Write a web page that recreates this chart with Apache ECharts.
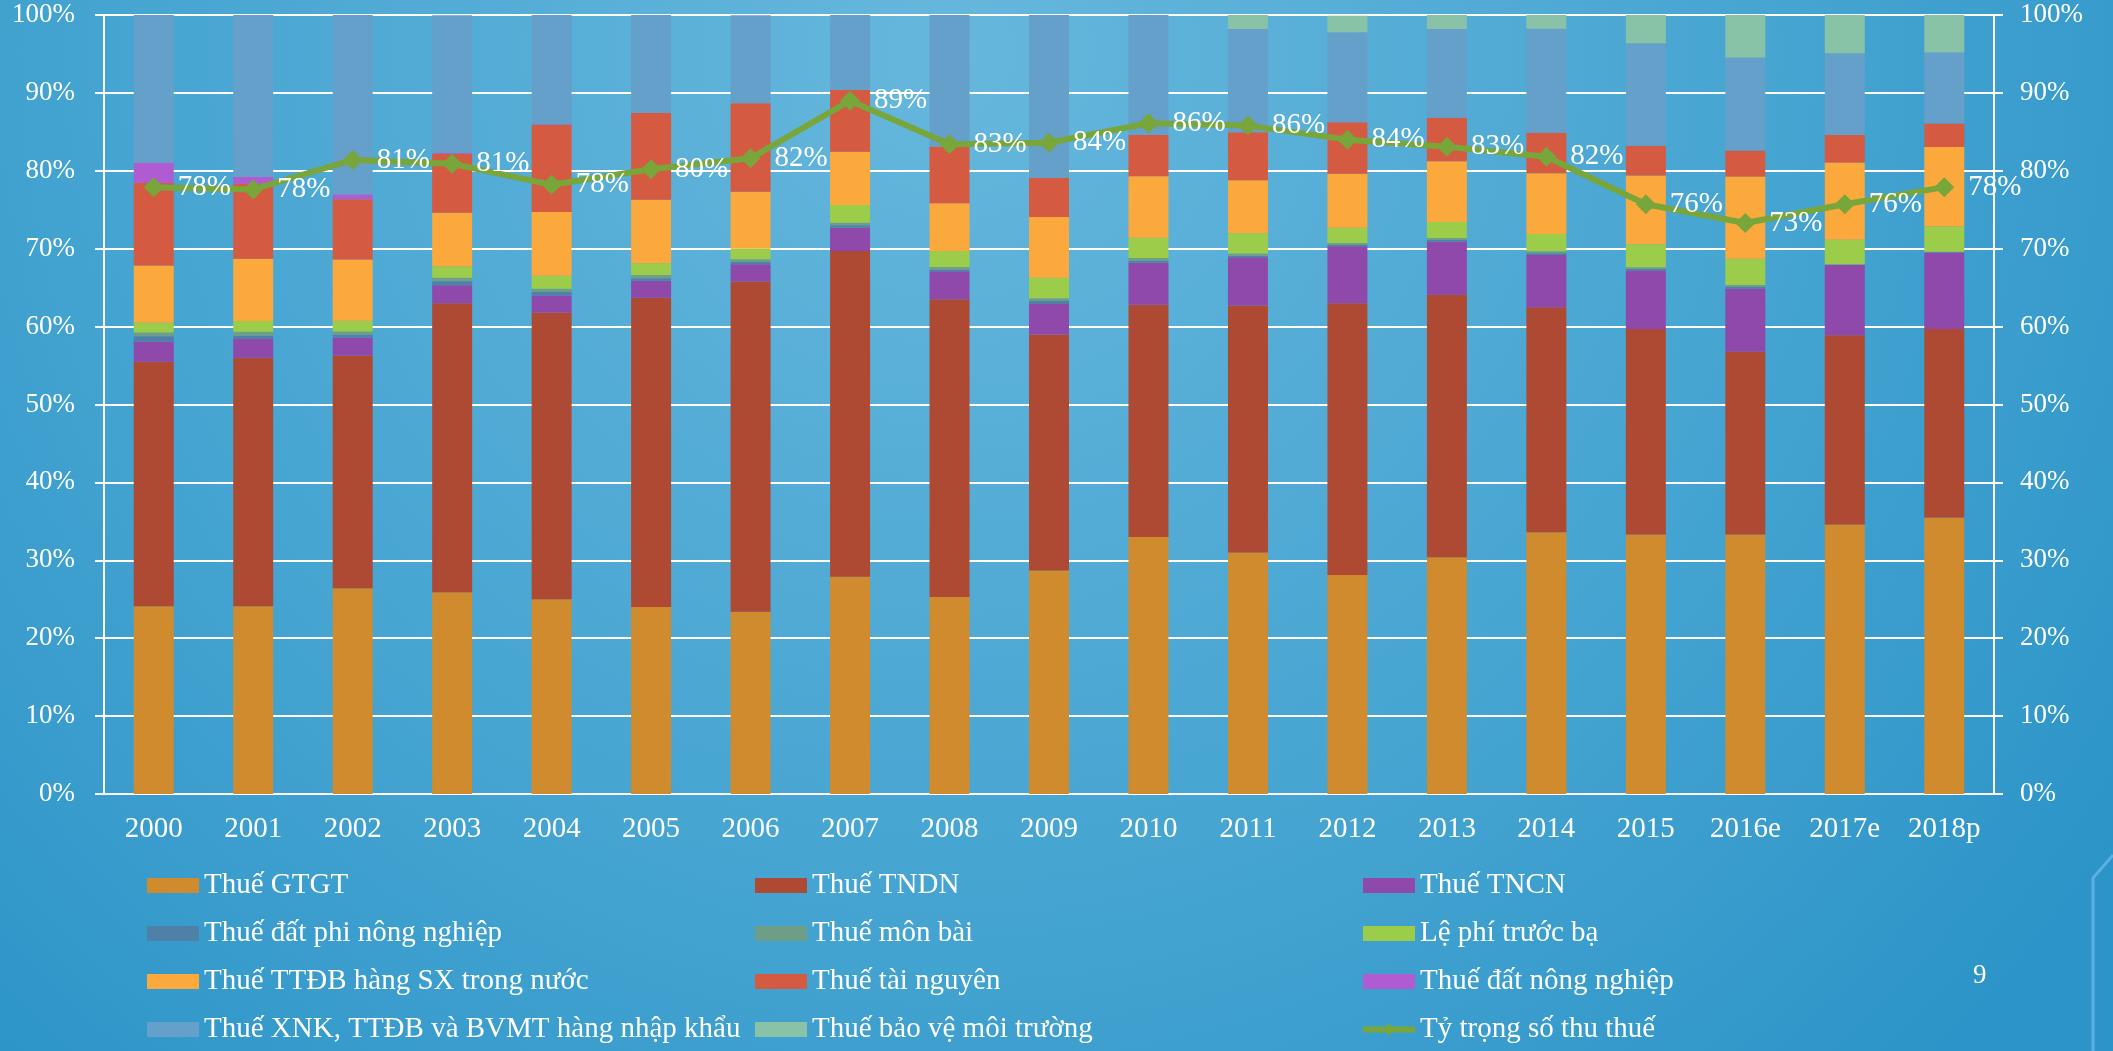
<!DOCTYPE html>
<html>
<head>
<meta charset="utf-8">
<script src="https://cdn.jsdelivr.net/npm/echarts@6/dist/echarts.min.js"></script>
<style>
  html, body { margin: 0; padding: 0; }
  #chart { width: 2113px; height: 1051px; }
</style>
</head>
<body>
<div id="chart"></div>
<script>
// categories
const years = ['2000','2001','2002','2003','2004','2005','2006','2007','2008','2009',
               '2010','2011','2012','2013','2014','2015','2016e','2017e','2018p'];
const yTicks = [0, 10, 20, 30, 40, 50, 60, 70, 80, 90, 100];

// tỷ trọng từng sắc thuế (%)
const gtgt      = [24.1, 24.1, 26.4, 25.9, 25.0, 24.0, 23.4, 27.9, 25.3, 28.7, 33.0, 31.0, 28.1, 30.4, 33.6, 33.3, 33.3, 34.6, 35.5];
const tndn      = [31.4, 31.9, 29.9, 37.1, 36.8, 39.7, 42.4, 41.8, 38.2, 30.3, 29.8, 31.7, 34.9, 33.7, 28.9, 26.4, 23.5, 24.3, 24.2];
const tncn      = [2.6, 2.4, 2.3, 2.3, 2.2, 2.2, 2.2, 3.0, 3.6, 3.9, 5.4, 6.2, 7.3, 6.8, 6.7, 7.5, 8.1, 9.0, 9.8];
const datPhiNN  = [0.65, 0.43, 0.34, 0.51, 0.43, 0.3, 0.3, 0.3, 0.22, 0.39, 0.26, 0.21, 0.17, 0.22, 0.21, 0.21, 0.21, 0.05, 0.05];
const monBai    = [0.5, 0.51, 0.43, 0.47, 0.43, 0.42, 0.34, 0.34, 0.34, 0.34, 0.34, 0.26, 0.26, 0.25, 0.26, 0.22, 0.22, 0.05, 0.05];
const lePhiTB   = [1.24, 1.37, 1.37, 1.42, 1.67, 1.5, 1.37, 2.27, 2.05, 2.65, 2.61, 2.61, 1.97, 2.06, 2.22, 2.95, 3.38, 3.16, 3.24];
const ttdbSX    = [7.36, 8.0, 7.87, 6.93, 8.17, 8.17, 7.31, 6.84, 6.12, 7.79, 7.88, 6.8, 6.93, 7.79, 7.79, 8.82, 10.57, 9.92, 10.23];
const taiNguyen = [10.61, 9.63, 7.75, 7.57, 11.21, 11.13, 11.34, 7.96, 7.28, 5.05, 5.3, 6.17, 6.59, 5.56, 5.22, 3.8, 3.33, 3.51, 2.99];
const datNN     = [2.53, 0.85, 0.6, 0.13, 0.05, 0, 0, 0, 0, 0, 0, 0, 0, 0, 0, 0, 0, 0, 0];
const xnk       = [19.04, 20.8, 23.06, 17.63, 14.07, 12.58, 11.3, 9.63, 16.94, 20.88, 15.45, 13.26, 11.55, 11.42, 13.35, 13.18, 11.94, 10.49, 9.12];
const bvmt      = [0, 0, 0, 0, 0, 0, 0, 0, 0, 0, 0, 1.84, 2.14, 1.8, 1.8, 3.64, 5.48, 4.96, 4.92];
const tyTrong   = [77.9, 77.6, 81.4, 80.9, 78.2, 80.2, 81.6, 89.0, 83.4, 83.6, 86.1, 85.8, 84.0, 83.1, 81.8, 75.7, 73.3, 75.7, 77.9];

const FONT = 'Liberation Serif';
const LINE_NAME = 'Tỷ trọng số thu thuế';
const LINE_COLOR = '#78a63a';

function barSeries(name, data, color) {
    return {
        name: name,
        type: 'bar',
        stack: 'thue',
        barWidth: 40,
        itemStyle: { color: color },
        data: data
    };
}

const option = {
    backgroundColor: {
        type: 'radial', x: 0.45, y: 0.05, r: 1.35,
        colorStops: [
            { offset: 0, color: '#66b7dc' },
            { offset: 0.6, color: '#45a4d1' },
            { offset: 1, color: '#2c94c8' }
        ]
    },
    animation: false,
    textStyle: { fontFamily: FONT },
    grid: { left: 104, right: 119, top: 15, bottom: 257 },
    xAxis: {
        type: 'category',
        data: years,
        axisLine: { lineStyle: { color: '#fff', width: 2 } },
        axisTick: { length: 8, lineStyle: { color: '#fff', width: 2 } },
        axisLabel: { color: '#fff', fontSize: 29, fontFamily: FONT, margin: 21 }
    },
    yAxis: [
        {
            type: 'value', min: yTicks[0], max: yTicks[yTicks.length - 1], interval: 10,
            axisLine: { show: true, lineStyle: { color: '#fff', width: 2 } },
            axisTick: { show: true, length: 9, lineStyle: { color: '#fff', width: 2 } },
            splitLine: { lineStyle: { color: '#fff', width: 2 } },
            axisLabel: { color: '#fff', fontSize: 27, fontFamily: FONT, margin: 29, formatter: '{value}%' }
        },
        {
            type: 'value', min: yTicks[0], max: yTicks[yTicks.length - 1], interval: 10,
            position: 'right',
            axisLine: { show: true, lineStyle: { color: '#fff', width: 2 } },
            axisTick: { show: true, length: 9, lineStyle: { color: '#fff', width: 2 } },
            splitLine: { show: false },
            axisLabel: { color: '#fff', fontSize: 27, fontFamily: FONT, margin: 26, formatter: '{value}%' }
        }
    ],
    legend: [
        { data: ['Thuế GTGT', 'Thuế đất phi nông nghiệp', 'Thuế TTĐB hàng SX trong nước', 'Thuế XNK, TTĐB và BVMT hàng nhập khẩu'], left: 147 },
        { data: ['Thuế TNDN', 'Thuế môn bài', 'Thuế tài nguyên', 'Thuế bảo vệ môi trường'], left: 755 },
        { data: ['Thuế TNCN', 'Lệ phí trước bạ', 'Thuế đất nông nghiệp', LINE_NAME], left: 1360 }
    ].map(function (l) {
        return {
            orient: 'vertical',
            left: l.left,
            top: 871,
            padding: 0,
            itemWidth: 52,
            itemHeight: 15,
            itemGap: 19,
            textStyle: { color: '#fff', fontSize: 29, fontFamily: FONT, lineHeight: 29 },
            data: l.data.map(function (n) {
                return n === LINE_NAME
                    ? { name: n, lineStyle: { width: 6, color: LINE_COLOR } }
                    : { name: n, icon: 'rect' };
            })
        };
    }),
    series: [
        barSeries('Thuế GTGT', gtgt, '#cf8b2e'),
        barSeries('Thuế TNDN', tndn, '#ae4a33'),
        barSeries('Thuế TNCN', tncn, '#8e49ab'),
        barSeries('Thuế đất phi nông nghiệp', datPhiNN, '#4e80a8'),
        barSeries('Thuế môn bài', monBai, '#6e9e88'),
        barSeries('Lệ phí trước bạ', lePhiTB, '#9bcd4b'),
        barSeries('Thuế TTĐB hàng SX trong nước', ttdbSX, '#fba83c'),
        barSeries('Thuế tài nguyên', taiNguyen, '#d45b42'),
        barSeries('Thuế đất nông nghiệp', datNN, '#b05bd2'),
        barSeries('Thuế XNK, TTĐB và BVMT hàng nhập khẩu', xnk, '#64a0ca'),
        barSeries('Thuế bảo vệ môi trường', bvmt, '#88c3a8'),
        {
            name: LINE_NAME,
            type: 'line',
            z: 5,
            data: tyTrong,
            symbol: 'diamond',
            symbolSize: 20,
            lineStyle: { color: LINE_COLOR, width: 6 },
            itemStyle: { color: LINE_COLOR },
            label: {
                show: true,
                position: 'right',
                distance: 14,
                color: '#fff',
                fontSize: 29,
                fontFamily: FONT,
                formatter: function (p) { return Math.round(p.value) + '%'; }
            }
        }
    ],
    graphic: [
        {
            type: 'text', left: 1973, top: 962,
            style: { text: '9', fill: '#fff', font: '27px "Liberation Serif"' }
        },
        {
            type: 'polyline',
            shape: { points: [[2113, 855], [2093, 878], [2093, 1051]] },
            style: { stroke: 'rgba(95,180,230,0.9)', lineWidth: 3, fill: null }
        }
    ]
};

const myChart = echarts.init(document.getElementById('chart'));
myChart.setOption(option);
</script>
</body>
</html>
